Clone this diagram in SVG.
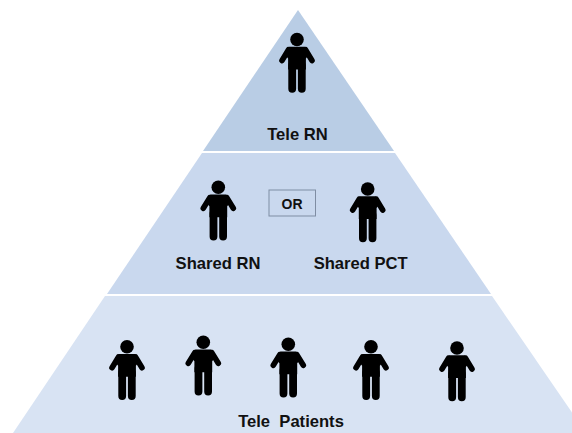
<svg xmlns="http://www.w3.org/2000/svg" width="572" height="433" viewBox="0 0 572 433">
<style>
.t{font-family:"Liberation Sans",Arial,sans-serif;font-weight:bold;font-size:16.600px;fill:#111;text-anchor:middle}
.a{stroke:#000;stroke-width:5.600;stroke-linecap:round;fill:none}
.l{stroke:#000;stroke-width:7.800;stroke-linecap:round;fill:none}
</style>
<defs>
<g id="person">
<circle cx="0" cy="0" r="6.800" fill="#000"/>
<path d="M-8 7.200H8L12 12V15L8.900 19V30H-8.900V19L-12 15V12Z" fill="#000"/>
<path class="a" d="M-8.500 10.300L-15 21M8.500 10.300L15 21"/>
<path class="l" d="M-4.800 26V49.300M4.800 26V49.300"/>
</g>
</defs>
<g id="tier-top">
<path d="M298 10L394 151H203Z" fill="#b9cde5"/>
<use href="#person" x="297" y="39.500"/>
<text class="t" x="297.500" y="140">Tele RN</text>
</g>
<g id="tier-middle">
<path d="M202 153H395L491 294H107Z" fill="#c9d8ee"/>
<use href="#person" x="218.300" y="187.300"/>
<use href="#person" x="367.700" y="189"/>
<g id="or-box">
<rect x="269" y="190" width="46.500" height="26" fill="#c9d8ee" stroke="#7f8da3" stroke-width="1"/>
<text class="t" x="292" y="209" style="font-size:14px">OR</text>
</g>
<text class="t" x="218" y="269">Shared RN</text>
<text class="t" x="360.700" y="269">Shared PCT</text>
</g>
<g id="tier-bottom">
<path d="M105 296H492L586 433H13Z" fill="#d8e3f3"/>
<use href="#person" x="127" y="346.700"/>
<use href="#person" x="203.300" y="342.300"/>
<use href="#person" x="288.300" y="344.300"/>
<use href="#person" x="371" y="346.700"/>
<use href="#person" x="457" y="348"/>
<text class="t" x="291" y="427" xml:space="preserve">Tele  Patients</text>
</g>
<g id="connectors"/>
</svg>
